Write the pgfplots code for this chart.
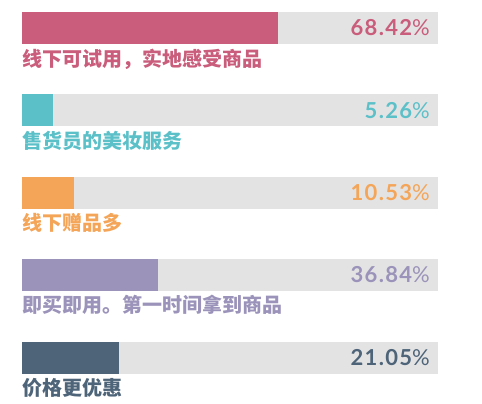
\documentclass[border=0pt]{standalone}
\usepackage{pgfplots}
\pgfplotsset{compat=1.18}
\usepackage{fontspec}
\setmainfont{Lato}
\newfontfamily\pctfont{Lato}[LetterSpace=6]
\newfontfamily\cjk{Noto Sans CJK SC}

\definecolor{track}{HTML}{E3E3E3}
\definecolor{c1}{HTML}{C95D7B}
\definecolor{c2}{HTML}{5CC0C9}
\definecolor{c3}{HTML}{F4A558}
\definecolor{c4}{HTML}{9B93B9}
\definecolor{c5}{HTML}{4E6479}

% #1 bar centre, #2 bar length (% of track), #3 shown value, #4 colour,
% #5 label centre, #6 label
\newcommand{\row}[6]{%
  \addplot[fill=track, draw=none,
    nodes near coords={{\bfseries\pgfplotspointmeta}\%},
    point meta=explicit symbolic,
    every node near coord/.style={anchor=east, inner sep=0pt, xshift=-8pt,
      text=#4, font=\pctfont\fontsize{22}{22}\selectfont}]
    coordinates {(100,#1)[#3]};
  \addplot[fill=#4, draw=none] coordinates {(#2,#1)};
  \addplot[fill=none, draw=none,
    nodes near coords, point meta=explicit symbolic,
    every node near coord/.style={anchor=west, inner sep=0pt,
      text=#4, font=\cjk\bfseries\fontsize{20}{20}\selectfont}]
    coordinates {(0,#5)[#6]};
}

\begin{document}
\begin{tikzpicture}
\begin{axis}[
    scale only axis,
    width=482pt, height=402pt,
    xmin=-5.288, xmax=110.577,
    ymin=0, ymax=402, y dir=reverse,
    axis line style={draw=none}, xtick=\empty, ytick=\empty,
    clip=false,
    xbar, bar width=32pt, bar shift=0pt,
  ]
  \row{28}{61.5}{68.42}{c1}{59.5}{线下可试用，实地感受商品}
  \row{110.5}{7.45}{5.26}{c2}{141}{售货员的美妆服务}
  \row{193}{12.5}{10.53}{c3}{222.5}{线下赠品多}
  \row{275}{32.7}{36.84}{c4}{305}{即买即用。第一时间拿到商品}
  \row{357.5}{23.3}{21.05}{c5}{387.5}{价格更优惠}
\end{axis}
\end{tikzpicture}
\end{document}
